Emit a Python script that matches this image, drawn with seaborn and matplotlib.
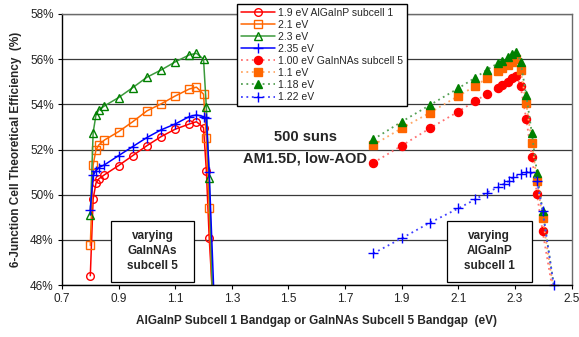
"""
Six-junction cell efficiency vs. subcell bandgap (500 suns, AM1.5D low-AOD).
Left family: fixed AlGaInP subcell 1, varying GaInNAs subcell 5.
Right family: fixed GaInNAs subcell 5, varying AlGaInP subcell 1.
"""

import numpy as np
import pandas as pd
import matplotlib
matplotlib.use("Agg")
import matplotlib.pyplot as plt
from matplotlib.patches import Rectangle
from matplotlib.ticker import FuncFormatter
import seaborn as sns

# ── Data ─────────────────────────────────────────────────────────────────────
# varying GaInNAs subcell 5 (solid lines, open markers)
x_sub5 = [0.80, 0.81, 0.82, 0.83, 0.85, 0.90, 0.95, 1.00, 1.05, 1.10, 1.15, 1.175, 1.20, 1.21, 1.22, 1.232]
eff_190 = [46.41, 49.81, 50.51, 50.70, 50.88, 51.29, 51.73, 52.17, 52.57, 52.90, 53.13, 53.23, 52.97, 51.07, 48.10, 45.5]
eff_210 = [47.75, 51.32, 51.98, 52.20, 52.42, 52.79, 53.23, 53.71, 54.02, 54.37, 54.68, 54.76, 54.45, 52.50, 49.40, 45.0]
eff_230 = [49.10, 52.75, 53.53, 53.75, 53.93, 54.30, 54.74, 55.20, 55.52, 55.88, 56.19, 56.26, 56.00, 53.87, 50.73, 45.3]
eff_235 = [49.33, 50.85, 51.07, 51.20, 51.32, 51.73, 52.13, 52.53, 52.87, 53.13, 53.46, 53.53, 53.46, 53.38, 51.00, 44.5]
x_sub5_235 = [0.80, 0.81, 0.82, 0.83, 0.85, 0.90, 0.95, 1.00, 1.05, 1.10, 1.15, 1.175, 1.20, 1.21, 1.22, 1.24]

# varying AlGaInP subcell 1 (dotted lines, filled markers)
x_sub1 = [1.80, 1.90, 2.00, 2.10, 2.16, 2.20, 2.24, 2.255, 2.275, 2.29, 2.305, 2.32, 2.34, 2.36, 2.378, 2.398, 2.44]
eff_100 = [51.41, 52.17, 52.94, 53.68, 54.15, 54.45, 54.71, 54.86, 55.00, 55.15, 55.27, 54.81, 53.35, 51.69, 50.02, 48.37, 45.3]
eff_110 = [52.20, 52.94, 53.63, 54.37, 54.81, 55.15, 55.48, 55.60, 55.74, 55.89, 55.99, 55.52, 54.05, 52.30, 50.60, 48.95, 45.5]
eff_118 = [52.45, 53.23, 53.97, 54.71, 55.18, 55.52, 55.82, 55.93, 56.08, 56.22, 56.30, 55.89, 54.41, 52.72, 50.97, 49.28, 45.8]
x_sub1_122 = [1.80, 1.90, 2.00, 2.10, 2.16, 2.20, 2.24, 2.26, 2.28, 2.295, 2.32, 2.34, 2.355, 2.378, 2.398, 2.437]
eff_122 = [47.40, 48.07, 48.76, 49.39, 49.79, 50.09, 50.32, 50.47, 50.62, 50.77, 50.90, 50.99, 51.02, 50.62, 49.28, 46.00]

x_ticks = [0.7, 0.9, 1.1, 1.3, 1.5, 1.7, 1.9, 2.1, 2.3, 2.5]
y_ticks = [46, 48, 50, 52, 54, 56, 58]

# ── Styling ──────────────────────────────────────────────────────────────────
sns.set_style("white")
plt.rcParams['font.family'] = ['Liberation Sans', 'DejaVu Sans']

RED, ORANGE, GREEN, BLUE = '#FF0000', '#FF6600', '#008000', '#0000FF'
dots = (0, (1, 2))

series = [
    # label, x, y, line colour, marker colour, marker, filled, linestyle
    ("1.9 eV AlGaInP subcell 1", x_sub5, eff_190, RED, RED, 'o', False, '-'),
    ("2.1 eV", x_sub5, eff_210, ORANGE, ORANGE, 's', False, '-'),
    ("2.3 eV", x_sub5, eff_230, '#3C9A3C', GREEN, '^', False, '-'),
    ("2.35 eV", x_sub5_235, eff_235, BLUE, BLUE, '+', False, '-'),
    ("1.00 eV GaInNAs subcell 5", x_sub1, eff_100, '#FF7070', RED, 'o', True, dots),
    ("1.1 eV", x_sub1, eff_110, '#FFA866', ORANGE, 's', True, dots),
    ("1.18 eV", x_sub1, eff_118, '#55A055', GREEN, '^', True, dots),
    ("1.22 eV", x_sub1_122, eff_122, '#3F3FFF', BLUE, '+', True, dots),
]

fig = plt.figure(figsize=(5.79, 3.37), dpi=100)
ax = fig.add_axes([62 / 579, 52 / 337, 509.5 / 579, 271 / 337])

for label, xs, ys, lc, mc, mk, filled, ls in series:
    df = pd.DataFrame({'bandgap': xs, 'eff': ys})
    ms = 5.8 if filled else 5.5
    if mk == '+':
        ms = 7
    sns.lineplot(data=df, x='bandgap', y='eff', ax=ax, label=label,
                 color=lc, linestyle=ls, linewidth=1.1 if ls == '-' else 1.3,
                 marker=mk, markersize=ms, markeredgewidth=1.0,
                 markerfacecolor=mc if filled else 'none', markeredgecolor=mc,
                 sort=False, estimator=None,
                 clip_on=not (label == "1.22 eV"))

# ── Axes ─────────────────────────────────────────────────────────────────────
ax.set_xlim(0.7, 2.5)
ax.set_ylim(46, 58)
ax.set_xticks(x_ticks)
ax.set_yticks(y_ticks)
ax.yaxis.set_major_formatter(FuncFormatter(lambda v, _: f"{v:.0f}%"))
ax.xaxis.set_major_formatter(FuncFormatter(lambda v, _: f"{v:.1f}"))
ax.tick_params(axis='both', direction='out', length=3, width=0.8, labelsize=8.5,
               bottom=True, left=True, colors='black', pad=3)
ax.tick_params(axis='both', labelcolor='#222222')

ax.yaxis.grid(True, color='#3a3a3a', linewidth=0.9)
ax.set_axisbelow(True)
for side in ['left', 'bottom']:
    ax.spines[side].set_color('black')
    ax.spines[side].set_linewidth(1.0)
for side in ['top', 'right']:
    ax.spines[side].set_color('#6a6a6a')
    ax.spines[side].set_linewidth(1.0)

ax.set_xlabel("AlGaInP Subcell 1 Bandgap or GaInNAs Subcell 5 Bandgap  (eV)",
              fontsize=8.5, fontweight='bold', labelpad=7)
ax.set_ylabel("6-Junction Cell Theoretical Efficiency  (%)",
              fontsize=8.5, fontweight='bold', labelpad=6)

# ── Annotations ──────────────────────────────────────────────────────────────
ax.text(1.56, 52.55, "500 suns", ha='center', va='center', fontsize=10.5, fontweight='bold')
ax.text(1.56, 51.62, "AM1.5D, low-AOD", ha='center', va='center', fontsize=10.5, fontweight='bold')

# boxed captions: a frame rectangle plus centred text
for x0, x1, caption in [(0.873, 1.166, "varying\nGaInNAs\nsubcell 5"),
                        (2.059, 2.360, "varying\nAlGaInP\nsubcell 1")]:
    ax.add_patch(Rectangle((x0, 46.14), x1 - x0, 2.71, facecolor='white',
                           edgecolor='black', linewidth=0.9, zorder=4))
    ax.text((x0 + x1) / 2, 47.5, caption, ha='center', va='center', fontsize=8.5,
            fontweight='bold', linespacing=1.35, zorder=5)

# ── Legend ───────────────────────────────────────────────────────────────────
leg = ax.legend(loc='upper left', bbox_to_anchor=(237 / 579, 1 - 4 / 337),
                bbox_transform=fig.transFigure, fontsize=7.5, frameon=True,
                fancybox=False, framealpha=1, edgecolor='black',
                borderpad=0.35, labelspacing=0.2, handlelength=3.3,
                handletextpad=0.3, borderaxespad=0, numpoints=1)
leg.get_frame().set_linewidth(1.0)
leg.set_zorder(6)

fig.savefig("out.png", dpi=100)
print("Saved out.png")
